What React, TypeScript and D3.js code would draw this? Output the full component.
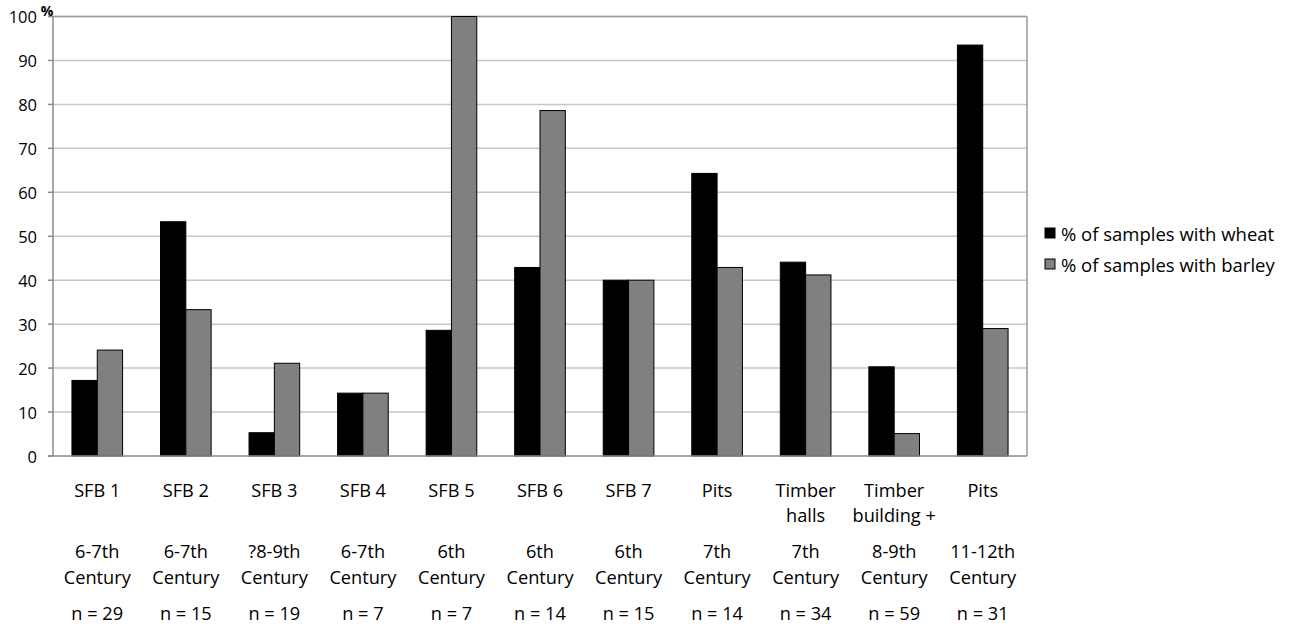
import React from "react";
import * as d3 from "d3";

const siteNames: string[][] = [
  ["SFB 1"], ["SFB 2"], ["SFB 3"], ["SFB 4"], ["SFB 5"], ["SFB 6"], ["SFB 7"],
  ["Pits"], ["Timber", "halls"], ["Timber", "building +"], ["Pits"],
];
const periods: string[] = ["6-7th", "6-7th", "?8-9th", "6-7th", "6th", "6th", "6th", "7th", "7th", "8-9th", "11-12th"];
const sampleCounts: number[] = [29, 15, 19, 7, 7, 14, 15, 14, 34, 59, 31];
const wheatPct: number[] = [17.2, 53.3, 5.3, 14.3, 28.6, 42.9, 40.0, 64.3, 44.1, 20.3, 93.5];
const barleyPct: number[] = [24.1, 33.3, 21.1, 14.3, 100, 78.6, 40.0, 42.9, 41.2, 5.1, 29.0];
const yTicks: number[] = [0, 10, 20, 30, 40, 50, 60, 70, 80, 90, 100];
const seriesNames: string[] = ["% of samples with wheat", "% of samples with barley"];
const seriesColors: string[] = ["#000000", "#808080"];

const W = 1290, H = 632;
const left = 53, right = 1027, top = 16.5, bottom = 456;
const FONT = "'Open Sans', 'Noto Sans', sans-serif";

export default function App() {
  const idx = d3.range(siteNames.length).map(String);
  const x = d3.scaleBand<string>().domain(idx).range([left, right]).paddingInner(0.428).paddingOuter(0.214);
  const xs = d3.scaleBand<string>().domain(["w", "b"]).range([0, x.bandwidth()]);
  const y = d3.scaleLinear().domain([0, 100]).range([bottom, top]);
  const series = [wheatPct, barleyPct];

  return (
    <svg width={W} height={H} style={{ position: "absolute", left: 0, top: 0, background: "#fff" }} fontFamily={FONT}>
      <rect x={0} y={0} width={W} height={H} fill="#fff" />
      {yTicks.filter(t => t > 0).map(t => (
        <line key={"g" + t} x1={left} x2={right} y1={y(t)} y2={y(t)} stroke="#c6c6c6" strokeWidth={1.5} />
      ))}
      <line x1={left} x2={right} y1={top} y2={top} stroke="#9a9a9a" strokeWidth={1.5} />
      <line x1={right} x2={right} y1={top} y2={bottom} stroke="#9a9a9a" strokeWidth={1.5} />
      {series.map((vals, si) =>
        vals.map((v, i) => {
          const bx = (x(String(i)) as number) + (xs(si === 0 ? "w" : "b") as number);
          return (
            <rect key={si + "-" + i} x={bx} y={y(v)} width={xs.bandwidth()} height={bottom - y(v)}
              fill={seriesColors[si]} stroke="#000" strokeWidth={1} />
          );
        })
      )}
      <line x1={left} x2={left} y1={top} y2={bottom} stroke="#8a8a8a" strokeWidth={1.5} />
      <line x1={left - 5} x2={right} y1={bottom} y2={bottom} stroke="#8a8a8a" strokeWidth={1.5} />
      {yTicks.map(t => (
        <g key={"t" + t}>
          <line x1={left - 5} x2={left} y1={y(t)} y2={y(t)} stroke="#8a8a8a" strokeWidth={1.5} />
          <text x={37} y={y(t)} textAnchor="end" dominantBaseline="central" fontSize={16.5} fill="#000">{t}</text>
        </g>
      ))}
      <text x={47} y={16} textAnchor="middle" fontSize={14} fontWeight="bold" fill="#000">%</text>
      {siteNames.map((lines, i) => {
        const cx = (x(String(i)) as number) + x.bandwidth() / 2;
        return (
          <g key={"c" + i} fontSize={18.2} fill="#000" textAnchor="middle">
            {lines.map((ln, li) => (
              <text key={li} x={cx} y={li === 0 ? 490 : 515} dominantBaseline="central">{ln}</text>
            ))}
            <text x={cx} y={551} dominantBaseline="central">{periods[i]}</text>
            <text x={cx} y={577} dominantBaseline="central">Century</text>
            <text x={cx} y={613} dominantBaseline="central">{"n = " + sampleCounts[i]}</text>
          </g>
        );
      })}
      {seriesNames.map((s, i) => (
        <g key={"l" + i}>
          <rect x={1045} y={228 + i * 31} width={10} height={10} fill={seriesColors[i]} stroke="#000" strokeWidth={1} />
          <text x={1061} y={233 + i * 31} dominantBaseline="central" fontSize={18.5} fill="#000">{s}</text>
        </g>
      ))}
    </svg>
  );
}
